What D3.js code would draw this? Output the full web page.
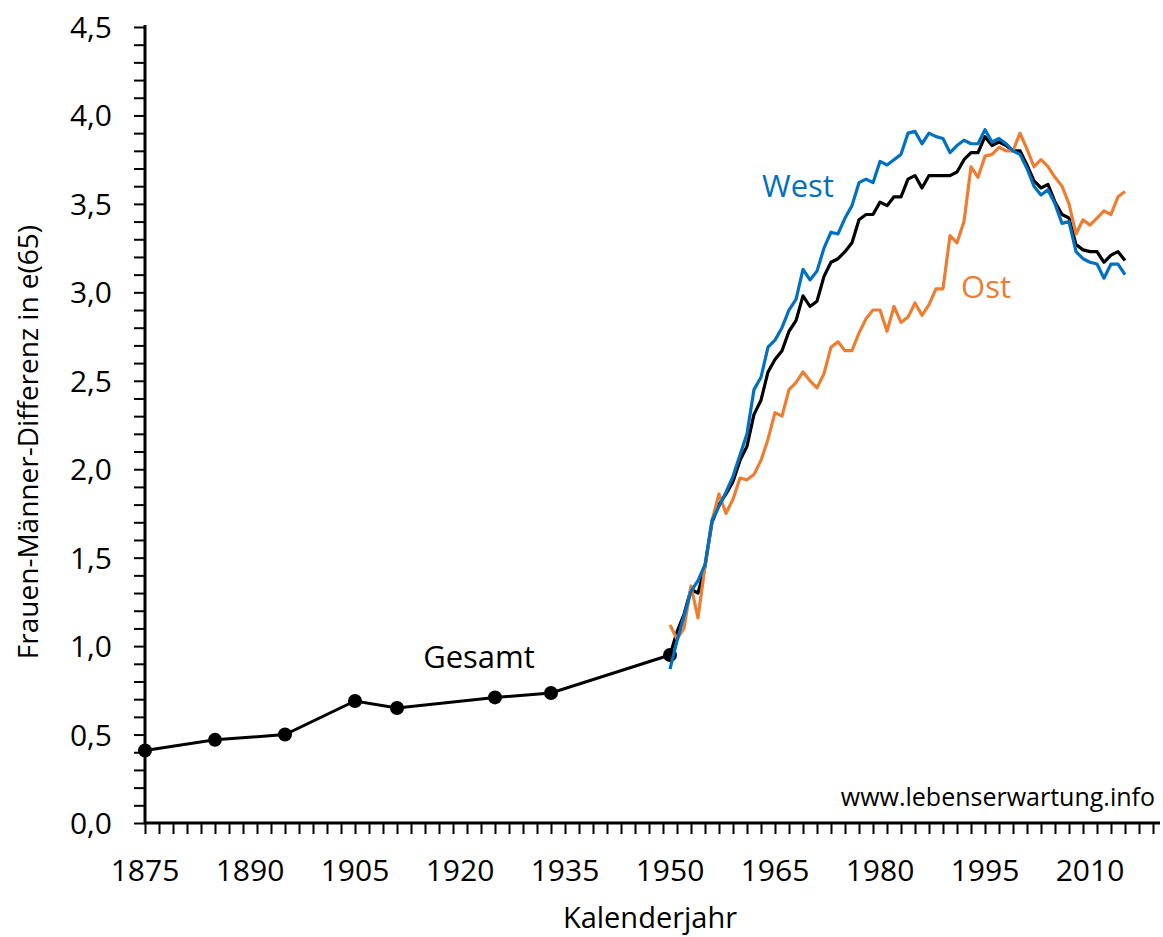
<!DOCTYPE html>
<html>
<head>
<meta charset="UTF-8">
<script src="https://d3js.org/d3.v7.min.js"></script>
<style>
  body { margin: 0; background: #fff; }
  svg { font-family: "Open Sans", "Noto Sans", sans-serif; }
</style>
</head>
<body>
<svg width="1163" height="937"></svg>
<script>
// historic life tables (Gesamt, dots)
var histYears = [1875, 1885, 1895, 1905, 1911, 1925, 1933, 1950];
var histValues = [0.41, 0.47, 0.50, 0.69, 0.65, 0.71, 0.735, 0.95];

// annual values 1950..2015
var years = d3.range(1950, 2016);
var gesamt = [0.95, 1.08, 1.18, 1.32, 1.30, 1.45, 1.70, 1.80, 1.86, 1.93,
  2.05, 2.13, 2.31, 2.39, 2.55, 2.62, 2.67, 2.78, 2.84, 2.98,
  2.92, 2.95, 3.09, 3.17, 3.19, 3.23, 3.28, 3.41, 3.44, 3.44,
  3.51, 3.49, 3.54, 3.54, 3.64, 3.66, 3.59, 3.66, 3.66, 3.66,
  3.66, 3.68, 3.75, 3.79, 3.79, 3.88, 3.83, 3.85, 3.83, 3.80,
  3.80, 3.72, 3.63, 3.59, 3.61, 3.51, 3.44, 3.42, 3.27, 3.24,
  3.23, 3.23, 3.17, 3.21, 3.23, 3.18];
var west = [0.87, 1.03, 1.17, 1.31, 1.37, 1.46, 1.71, 1.79, 1.87, 1.96,
  2.08, 2.20, 2.45, 2.52, 2.69, 2.73, 2.80, 2.90, 2.96, 3.13,
  3.07, 3.12, 3.25, 3.34, 3.33, 3.42, 3.49, 3.62, 3.64, 3.62,
  3.74, 3.72, 3.75, 3.78, 3.90, 3.91, 3.84, 3.90, 3.88, 3.87,
  3.79, 3.83, 3.86, 3.84, 3.84, 3.92, 3.85, 3.87, 3.84, 3.80,
  3.78, 3.70, 3.60, 3.55, 3.58, 3.50, 3.39, 3.40, 3.23, 3.19,
  3.17, 3.16, 3.08, 3.16, 3.16, 3.10];
var ost = [1.12, 1.04, 1.10, 1.34, 1.16, 1.45, 1.71, 1.86, 1.75, 1.83,
  1.95, 1.94, 1.97, 2.05, 2.17, 2.32, 2.30, 2.45, 2.49, 2.55,
  2.50, 2.46, 2.54, 2.69, 2.72, 2.67, 2.67, 2.77, 2.85, 2.90,
  2.90, 2.78, 2.92, 2.83, 2.86, 2.94, 2.87, 2.93, 3.02, 3.02,
  3.32, 3.28, 3.40, 3.71, 3.65, 3.77, 3.78, 3.82, 3.80, 3.80,
  3.90, 3.81, 3.71, 3.75, 3.71, 3.65, 3.60, 3.50, 3.33, 3.41,
  3.38, 3.42, 3.46, 3.44, 3.54, 3.57];

var xLabels = [1875, 1890, 1905, 1920, 1935, 1950, 1965, 1980, 1995, 2010];
var yLabels = [0, 0.5, 1, 1.5, 2, 2.5, 3, 3.5, 4, 4.5];

var svg = d3.select("svg");
var x = d3.scaleLinear().domain([1875, 2020]).range([145, 1160]);
var y = d3.scaleLinear().domain([0, 4.5]).range([823, 27]);
var fmt = function(d) { return d3.format(".1f")(d).replace(".", ","); };

// minor ticks
var gx = svg.append("g").attr("transform", "translate(0,823)");
gx.call(d3.axisBottom(x).tickValues(d3.range(1875, 2020, 2)).tickSize(11).tickFormat(""));
gx.select(".domain").remove();
gx.selectAll("line").attr("stroke", "#000").attr("stroke-width", 2);
svg.append("g").selectAll("text")
  .data(xLabels).enter().append("text")
  .attr("x", function(d) { return x(d); })
  .attr("y", 881)
  .attr("text-anchor", "middle")
  .style("font-size", "30px")
  .text(function(d) { return d; });

var gy = svg.append("g").attr("transform", "translate(145,0)");
gy.call(d3.axisLeft(y).tickValues(d3.range(0, 46).map(function(i) { return i / 10; })).tickSize(11).tickFormat(""));
gy.select(".domain").remove();
gy.selectAll("line").attr("stroke", "#000").attr("stroke-width", 2);
svg.append("g").selectAll("text")
  .data(yLabels).enter().append("text")
  .attr("x", 112)
  .attr("y", function(d) { return y(d) + 11; })
  .attr("text-anchor", "end")
  .style("font-size", "30px")
  .text(fmt);

// axis lines
svg.append("line").attr("x1", 145).attr("x2", 1160).attr("y1", 823).attr("y2", 823)
  .attr("stroke", "#000").attr("stroke-width", 3);
svg.append("line").attr("x1", 145).attr("x2", 145).attr("y1", 25).attr("y2", 824.5)
  .attr("stroke", "#000").attr("stroke-width", 3);

var line = d3.line()
  .x(function(d) { return x(d[0]); })
  .y(function(d) { return y(d[1]); });

svg.append("path")
  .datum(d3.zip(histYears, histValues))
  .attr("d", line).attr("fill", "none").attr("stroke", "#000").attr("stroke-width", 3);
svg.selectAll("circle.hist")
  .data(d3.zip(histYears, histValues)).enter().append("circle")
  .attr("cx", function(d) { return x(d[0]); })
  .attr("cy", function(d) { return y(d[1]); })
  .attr("r", 7).attr("fill", "#000");

var series = [
  { values: gesamt, color: "#000000" },
  { values: ost, color: "#ED7D31" },
  { values: west, color: "#0070C0" }
];
series.forEach(function(s) {
  svg.append("path")
    .datum(d3.zip(years, s.values))
    .attr("d", line).attr("fill", "none")
    .attr("stroke", s.color).attr("stroke-width", 3.2)
    .attr("stroke-linejoin", "round");
});

// labels
svg.append("text").attr("x", 798).attr("y", 197).attr("text-anchor", "middle")
  .attr("fill", "#0070C0").style("font-size", "31px").text("West");
svg.append("text").attr("x", 986).attr("y", 298).attr("text-anchor", "middle")
  .attr("fill", "#ED7D31").style("font-size", "31px").text("Ost");
svg.append("text").attr("x", 479).attr("y", 668).attr("text-anchor", "middle")
  .attr("fill", "#000").style("font-size", "31px").text("Gesamt");
svg.append("text").attr("x", 1155).attr("y", 806).attr("text-anchor", "end")
  .attr("fill", "#000").style("font-size", "25px").text("www.lebenserwartung.info");

svg.append("text").attr("x", 650).attr("y", 928).attr("text-anchor", "middle")
  .style("font-size", "29px").text("Kalenderjahr");
svg.append("text").attr("transform", "translate(38,442) rotate(-90)")
  .attr("text-anchor", "middle").style("font-size", "28px")
  .text("Frauen-Männer-Differenz in e(65)");
</script>
</body>
</html>
